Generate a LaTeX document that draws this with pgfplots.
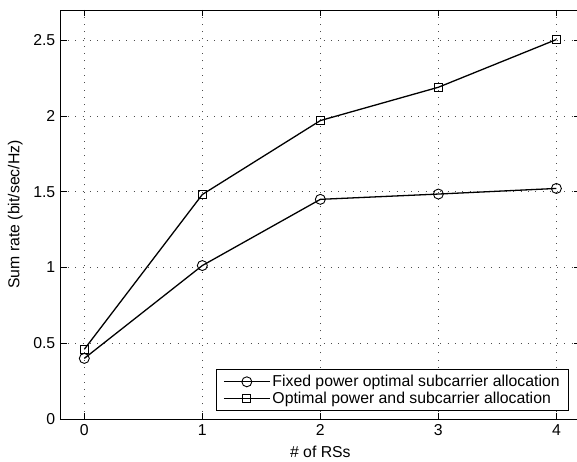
\documentclass[border=0pt]{standalone}
\usepackage{fontspec}
\setmainfont{Liberation Sans}
\usepackage{pgfplots}
\pgfplotsset{compat=1.18}
\begin{document}
\fontsize{15.8}{18}\selectfont
\begin{tikzpicture}
\begin{axis}[
  at={(0pt,0pt)}, anchor=south west,
  scale only axis, width=519.3pt, height=409pt,
  xmin=-0.2, xmax=4.2, ymin=0, ymax=2.7,
  xtick={0,1,2,3,4}, ytick={0,0.5,1,1.5,2,2.5},
  grid=major, grid style={black!70, line width=0.9pt, dash pattern=on 0.9pt off 6.4pt},
  tick align=inside, major tick length=6pt,
  axis line style={line width=0.9pt},
  tick style={black, line width=0.7pt, solid},
  xlabel={\# of RSs}, ylabel={Sum rate (bit/sec/Hz)},
  /pgf/number format/assume math mode=true,
  ticklabel style={font=\fontsize{15.8}{18}\selectfont},
  label style={font=\fontsize{15.8}{18}\selectfont},
  legend style={at={(0.979,0.0196)}, anchor=south east, draw=black, line width=0.9pt,
    fill=white, font=\fontsize{15.8}{18}\selectfont, inner xsep=7pt, inner ysep=3pt,
    row sep=-1pt},
  legend cell align=left,
  legend image code/.code={\draw[mark repeat=2,mark phase=2,#1] plot coordinates {(0pt,0pt) (23pt,0pt) (46pt,0pt)};},
]
\addplot[black, line width=1.3pt, mark=o, mark size=5pt, mark options={line width=0.9pt}]
  coordinates {(0,0.40) (1,1.013) (2,1.45) (3,1.485) (4,1.522)};
\addlegendentry{Fixed power optimal subcarrier allocation}
\addplot[black, line width=1.3pt, mark=square, mark size=4pt, mark options={line width=0.9pt}]
  coordinates {(0,0.46) (1,1.482) (2,1.97) (3,2.19) (4,2.505)};
\addlegendentry{Optimal power and subcarrier allocation}
\end{axis}
\pgfresetboundingbox
\path[use as bounding box] (-60.7pt,-43pt) rectangle (516.3pt,419pt);
\end{tikzpicture}
\end{document}
